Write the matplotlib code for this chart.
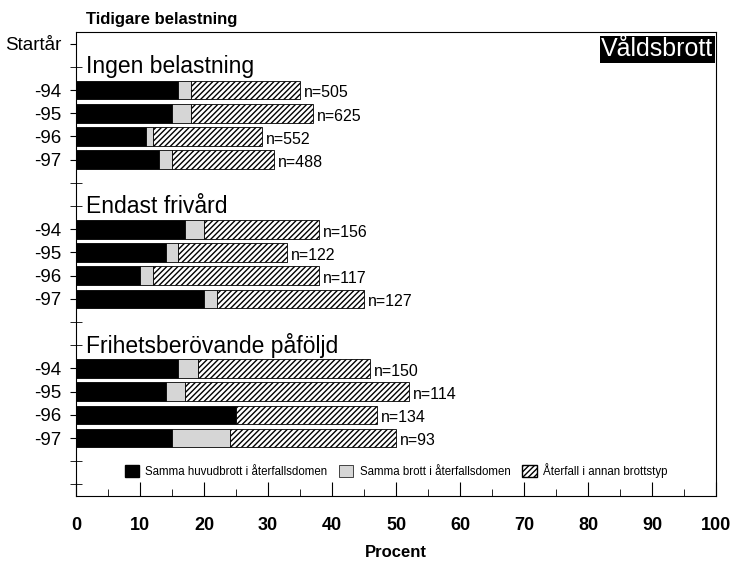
import matplotlib.pyplot as plt
import matplotlib.patches as mpatches

plt.rcParams['font.family'] = ['Liberation Sans', 'DejaVu Sans']
plt.rcParams['hatch.linewidth'] = 1.0

# Data (procent)
grupper = ['Ingen belastning', 'Endast frivård', 'Frihetsberövande påföljd']
ar = ['-94', '-95', '-96', '-97']
samma_huvudbrott = [[16, 15, 11, 13], [17, 14, 10, 20], [16, 14, 25, 15]]
samma_brott = [[2, 3, 1, 2], [3, 2, 2, 2], [3, 3, 0, 9]]
annan_typ = [[17, 19, 17, 16], [18, 17, 26, 23], [27, 35, 22, 26]]
antal = [[505, 625, 552, 488], [156, 122, 117, 127], [150, 114, 134, 93]]

fig = plt.figure(figsize=(7.36, 5.63), dpi=100)
ax = fig.add_axes([0.1033, 0.119, 0.8695, 0.824])

# positioner: 0 = Startår, sedan per grupp: rubrik, 4 år, tom rad
pos_labels = {0: 'Startår'}
for g in range(len(grupper)):
    start = 1 + g * 6
    ax.text(1.5, start, grupper[g], fontsize=16.5, va='center', ha='left')
    for i in range(len(ar)):
        y = start + 1 + i
        pos_labels[y] = ar[i]
        b = samma_huvudbrott[g][i]
        s = samma_brott[g][i]
        h = annan_typ[g][i]
        ax.barh(y, b, height=0.8, color='black', edgecolor='black', linewidth=0.6)
        ax.barh(y, s, left=b, height=0.8, color='#d6d6d6', edgecolor='black', linewidth=0.6)
        ax.barh(y, h, left=b + s, height=0.8, color='white', edgecolor='black',
                hatch='//////', linewidth=0.6)
        ax.text(b + s + h + 0.6, y + 0.12, 'n=' + str(antal[g][i]), fontsize=11.5,
                va='center', ha='left')

ax.set_ylim(19.5, -0.5)
ax.set_xlim(0, 100)

ax.set_yticks(list(pos_labels.keys()))
ax.set_yticklabels(list(pos_labels.values()), fontsize=13.5)
ax.tick_params(axis='y', direction='out', length=4.5, pad=6)
ax.set_yticks([0, 1, 6, 7, 12, 13, 18, 19], minor=True)
ax.tick_params(axis='y', which='minor', direction='inout', length=9)

ax.set_xticks(range(0, 101, 10))
ax.set_xticklabels([str(v) for v in range(0, 101, 10)], fontsize=13, fontweight='bold',
                   family=['Liberation Sans Narrow', 'Liberation Sans'])
ax.set_xticks(range(5, 100, 10), minor=True)
ax.tick_params(axis='x', direction='in', length=10, pad=15)
ax.tick_params(axis='x', which='minor', direction='in', length=5)
ax.set_xlabel('Procent', fontsize=12, fontweight='bold', labelpad=8,
              family=['Liberation Sans Narrow', 'Liberation Sans'])

for sp in ax.spines.values():
    sp.set_linewidth(0.8)

fig.text(0.1165, 0.9645, 'Tidigare belastning', fontsize=12, fontweight='bold', va='center')

ax.text(0.996, 0.963, 'Våldsbrott', transform=ax.transAxes, fontsize=18, color='white',
        ha='right', va='center',
        bbox=dict(facecolor='black', edgecolor='none', pad=1.0))

handles = [
    mpatches.Patch(facecolor='black', edgecolor='black', label='Samma huvudbrott i återfallsdomen'),
    mpatches.Patch(facecolor='#d6d6d6', edgecolor='black', linewidth=0.5, label='Samma brott i återfallsdomen'),
    mpatches.Patch(facecolor='white', edgecolor='black', hatch='//////', label='Återfall i annan brottstyp'),
]
ax.legend(handles=handles, loc='center', bbox_to_anchor=(0.5, 0.055), ncol=3, frameon=False,
          fontsize=8.3, handlelength=1.25, handleheight=1.25, columnspacing=1.0,
          handletextpad=0.55)

plt.savefig('out.png', dpi=100)
